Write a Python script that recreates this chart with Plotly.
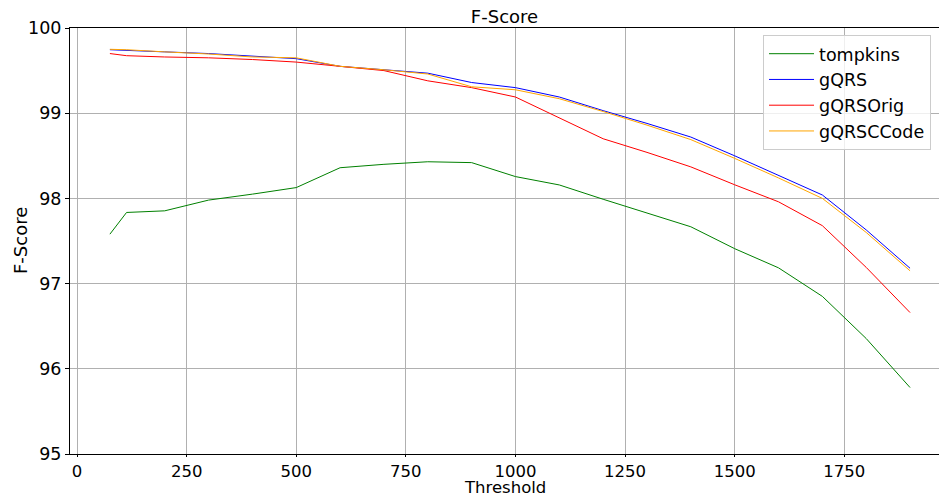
import plotly.graph_objects as go

thresholds = [75, 113, 200, 300, 400, 500, 600, 700, 800, 900, 1000,
              1100, 1200, 1300, 1400, 1500, 1600, 1700, 1800, 1900]

tompkins = [97.58, 97.835, 97.854, 97.98, 98.05, 98.127, 98.36, 98.40, 98.43, 98.42, 98.256,
            98.158, 97.99, 97.83, 97.667, 97.41, 97.185, 96.85, 96.355, 95.78]
gqrs = [99.745, 99.74, 99.72, 99.70, 99.67, 99.64, 99.55, 99.51, 99.47, 99.36, 99.30,
        99.19, 99.03, 98.88, 98.72, 98.50, 98.27, 98.04, 97.63, 97.18]
gqrs_orig = [99.70, 99.675, 99.66, 99.65, 99.63, 99.60, 99.55, 99.50, 99.38, 99.30, 99.19,
             98.945, 98.70, 98.54, 98.37, 98.16, 97.96, 97.68, 97.19, 96.66]
gqrs_ccode = [99.75, 99.745, 99.72, 99.695, 99.66, 99.65, 99.55, 99.51, 99.46, 99.31, 99.275,
              99.17, 99.02, 98.86, 98.69, 98.47, 98.24, 98.00, 97.60, 97.15]

series = [
    ("tompkins", tompkins, "#008000"),
    ("gQRS", gqrs, "#0000ff"),
    ("gQRSOrig", gqrs_orig, "#ff0000"),
    ("gQRSCCode", gqrs_ccode, "#ffa500"),
]

x_ticks = [0, 250, 500, 750, 1000, 1250, 1500, 1750]
y_ticks = [95, 96, 97, 98, 99, 100]

fig = go.Figure()
for name, vals, color in series:
    fig.add_trace(go.Scatter(x=thresholds, y=vals, mode="lines", name=name,
                             line=dict(color=color, width=1)))

font = "DejaVu Sans, Verdana, sans-serif"
fig.update_layout(
    width=939, height=498,
    margin=dict(l=70, r=0, t=28, b=44, autoexpand=False),
    paper_bgcolor="white", plot_bgcolor="white",
    font=dict(family=font, size=17, color="black"),
    title=dict(text="F-Score", x=(70 + 939) / 2 / 939, xanchor="center",
               y=1 - 17 / 498, yanchor="middle", font=dict(size=18)),
    legend=dict(x=0.7975, xanchor="left", y=0.984, yanchor="top",
                bgcolor="rgba(255,255,255,0.8)", bordercolor="#cccccc", borderwidth=1,
                font=dict(size=17.5), itemwidth=45),
    xaxis=dict(range=[-16, 1966], tickvals=x_ticks, showgrid=True, gridcolor="#b0b0b0",
               gridwidth=1, showline=True, linecolor="black", linewidth=1, mirror=True,
               ticks="outside", ticklen=2, tickcolor="black", zeroline=False,
               tickfont=dict(size=16.5)),
    yaxis=dict(range=[95, 100], tickvals=y_ticks, showgrid=True, gridcolor="#b0b0b0",
               gridwidth=1, showline=True, linecolor="black", linewidth=1,
               ticks="outside", ticklen=4, tickcolor="black", zeroline=False,
               tickfont=dict(size=17.5)),
    annotations=[
        dict(text="Threshold", xref="paper", yref="paper", x=0.5, xanchor="center",
             y=-(498 - 454) / 426, yanchor="bottom", showarrow=False, font=dict(size=16.5),
             borderpad=0),
        dict(text="F-Score", xref="paper", yref="paper", x=(20 - 70) / 869, xanchor="center",
             y=0.5, yanchor="middle", textangle=-90, showarrow=False, font=dict(size=18),
             borderpad=0),
    ],
)

fig.write_html("out.html")
